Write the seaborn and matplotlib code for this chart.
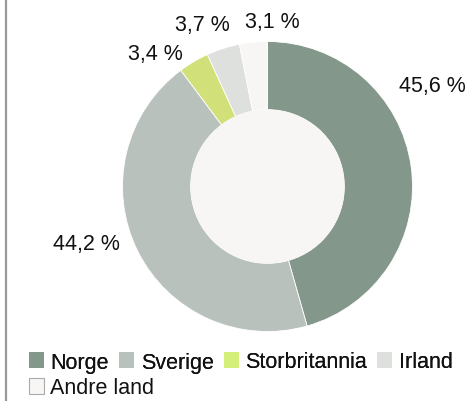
import matplotlib
matplotlib.use("Agg")
import matplotlib.pyplot as plt
from matplotlib.patches import Circle, Patch
import seaborn as sns

categories = ["Norge", "Sverige", "Storbritannia", "Irland", "Andre land"]
values = [45.6, 44.2, 3.4, 3.7, 3.1]
labels = ["45,6 %", "44,2 %", "3,4 %", "3,7 %", "3,1 %"]
colors = ["#84978B", "#B9C1BC", "#D2E07A", "#DEE0DE", "#F7F6F4"]
legend_colors = ["#84978B", "#B9C1BC", "#D4F07A", "#DEE0DE", "#F7F6F4"]

sns.set_theme(style="white")
plt.rcParams['font.family'] = ['Liberation Sans', 'DejaVu Sans']

W, H = 466, 402
fig = plt.figure(figsize=(W / 100, H / 100), dpi=100)
fig.patch.set_facecolor("white")

FS = 15.5
cx, cy, r = 267.5, 187.5, 145
ax = fig.add_axes([(cx - r) / W, (H - cy - r) / H, 2 * r / W, 2 * r / H])
ax.pie(values, colors=colors, startangle=90, counterclock=False, radius=1,
       wedgeprops=dict(width=0.47, edgecolor="white", linewidth=0.6))
ax.add_patch(Circle((0, 0), 0.53, facecolor="#F7F6F4", edgecolor="none", zorder=5))
ax.set_xlim(-1, 1)
ax.set_ylim(-1, 1)
ax.set_aspect("equal")
ax.axis("off")

label_pos = [(1.14, 0.70), (-1.25, -0.39), (-0.77, 0.92), (-0.45, 1.12), (0.03, 1.14)]
for lab, (x, y) in zip(labels, label_pos):
    ax.text(x, y, lab, ha="center", va="center", fontsize=FS, color="#111111", clip_on=False)

# left vertical rule
fig.add_artist(plt.Line2D([5.5 / W, 5.5 / W], [0, 1], color="#999999", lw=1.6))

handles = []
for c, lc in zip(categories, legend_colors):
    ec = "#AAAAAA" if c == "Andre land" else "none"
    handles.append(Patch(facecolor=lc, edgecolor=ec, linewidth=0.8, label=c))

common = dict(frameon=False, fontsize=FS, handlelength=0.7, handleheight=0.7,
              handletextpad=0.32, columnspacing=0.46, borderpad=0, borderaxespad=0,
              labelcolor="#111111")
leg1 = fig.legend(handles=handles[:4], ncol=4, loc="center left",
                  bbox_to_anchor=(28.5 / W, 1 - 363 / H), **common)
fig.add_artist(leg1)
leg2 = fig.legend(handles=handles[4:], ncol=1, loc="center left",
                  bbox_to_anchor=(28.5 / W, 1 - 389 / H), **common)

fig.savefig("out.png", dpi=100, facecolor="white")
